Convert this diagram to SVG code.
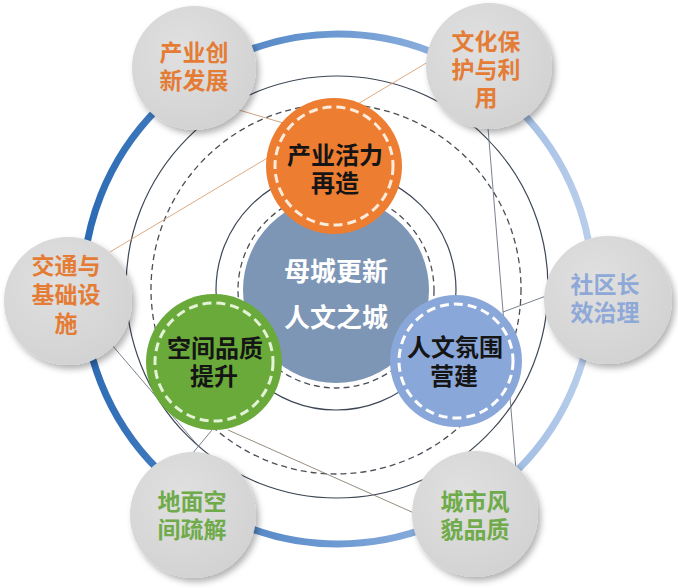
<svg xmlns="http://www.w3.org/2000/svg" width="678" height="588" viewBox="0 0 678 588">
<defs>
<linearGradient id="ringGrad" gradientUnits="userSpaceOnUse" x1="80" y1="0" x2="600" y2="0">
<stop offset="0" stop-color="#2a6ab3"/>
<stop offset="0.5" stop-color="#6f9bd3"/>
<stop offset="1" stop-color="#bcd0ec"/>
</linearGradient>
<radialGradient id="grayGrad" cx="0.4" cy="0.35" r="0.7">
<stop offset="0" stop-color="#e0e0e0"/>
<stop offset="1" stop-color="#d2d2d2"/>
</radialGradient>
<filter id="shadow" x="-20%" y="-20%" width="150%" height="150%">
<feDropShadow dx="3" dy="4" stdDeviation="3" flood-color="#000" flood-opacity="0.3"/>
</filter>
</defs>
<style>
.thin{fill:none;stroke:#3d4754;stroke-width:1.2}
.dash{fill:none;stroke:#4a4f57;stroke-width:1.3;stroke-dasharray:6 4}
.gray{fill:url(#grayGrad);filter:url(#shadow)}
.t{font-family:"Liberation Sans","Noto Sans CJK SC",sans-serif;font-weight:700;text-anchor:middle}
.o{font-size:23px;fill:#e47c36}
.g{font-size:23px;fill:#6fab4a}
.b{font-size:23px;fill:#8ea8d8}
.in{font-size:24px;fill:#151515}
.c{font-size:26px;fill:#ffffff}
.wd{fill:none;stroke-width:3;stroke-dasharray:9 5}
.ln{fill:none;stroke-width:0.9}
</style>
<rect width="678" height="588" fill="#ffffff"/>
<g id="rings">
<circle cx="338" cy="289" r="255" fill="none" stroke="url(#ringGrad)" stroke-width="7"/>
<circle class="thin" cx="337" cy="287" r="211"/>
<circle class="dash" cx="336" cy="289" r="185"/>
<circle class="thin" cx="336" cy="290" r="120"/>
<circle class="dash" cx="336" cy="290" r="98"/>
</g>
<g id="connectors">
<line class="ln" stroke="#d9a273" x1="110" y1="252" x2="428" y2="62"/>
<line class="ln" stroke="#c99a76" x1="232" y1="108" x2="290" y2="125"/>
<line class="ln" stroke="#6b7380" x1="488" y1="128" x2="516" y2="470"/>
<line class="ln" stroke="#6b7380" x1="503" y1="312" x2="546" y2="296"/>
<line class="ln" stroke="#6b7380" x1="212" y1="430" x2="192" y2="454"/>
<line class="ln" stroke="#8a8070" x1="228" y1="430" x2="414" y2="513"/>
<line class="ln" stroke="#6b7380" x1="112" y1="345" x2="200" y2="448"/>
</g>
<g id="node-chanye-chuangxin">
<circle class="gray" cx="194" cy="68" r="62"/>
<text class="t o" x="194" y="61">产业创<tspan x="194" dy="28">新发展</tspan></text>
</g>
<g id="node-wenhua-baohu">
<circle class="gray" cx="489" cy="66" r="63"/>
<text class="t o" x="486" y="50">文化保<tspan x="486" dy="28">护与利</tspan><tspan x="486" dy="28">用</tspan></text>
</g>
<g id="node-jiaotong">
<circle class="gray" cx="68" cy="301" r="64"/>
<text class="t o" x="66" y="274">交通与<tspan x="66" dy="29">基础设</tspan><tspan x="66" dy="29">施</tspan></text>
</g>
<g id="node-shequ">
<circle class="gray" cx="608" cy="300" r="64"/>
<text class="t b" x="605" y="293">社区长<tspan x="605" dy="28">效治理</tspan></text>
</g>
<g id="node-dimian">
<circle class="gray" cx="193" cy="515" r="63"/>
<text class="t g" x="192" y="510">地面空<tspan x="192" dy="28">间疏解</tspan></text>
</g>
<g id="node-chengshi">
<circle class="gray" cx="475" cy="514" r="63"/>
<text class="t g" x="475" y="510">城市风<tspan x="475" dy="28">貌品质</tspan></text>
</g>
<g id="node-center">
<circle cx="336" cy="290" r="93" fill="#7e96b6"/>
<text class="t c" x="336" y="281">母城更新<tspan x="336" dy="46">人文之城</tspan></text>
</g>
<g id="node-chanye-huoli">
<circle cx="334" cy="166" r="68" fill="#ed7d31"/>
<circle class="wd" cx="334" cy="166" r="59" stroke="#fdebdc"/>
<text class="t in" x="335" y="164">产业活力<tspan x="335" dy="28">再造</tspan></text>
</g>
<g id="node-kongjian">
<circle cx="214" cy="362" r="68" fill="#6aaa3b"/>
<circle class="wd" cx="214" cy="362" r="59" stroke="#e4f2d6"/>
<text class="t in" x="215" y="357">空间品质<tspan x="214" dy="28">提升</tspan></text>
</g>
<g id="node-renwen">
<circle cx="456" cy="361" r="66" fill="#8aa7da"/>
<circle class="wd" cx="456" cy="361" r="57" stroke="#ffffff"/>
<text class="t in" x="455" y="356">人文氛围<tspan x="454" dy="29">营建</tspan></text>
</g>
</svg>
